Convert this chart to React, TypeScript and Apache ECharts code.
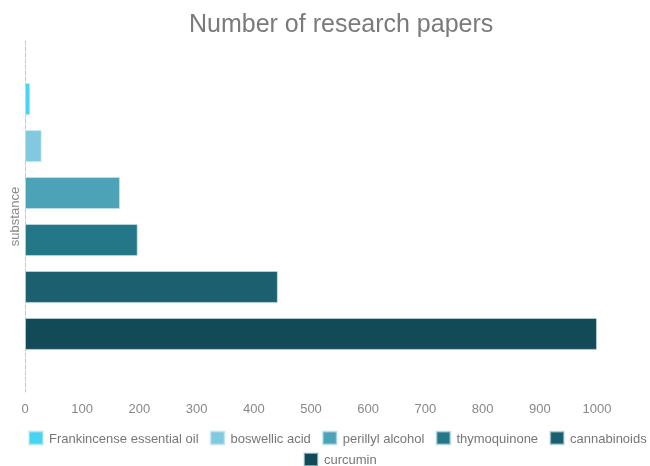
import React, { useEffect, useRef } from "react";
import * as echarts from "echarts";

const categories = ["substance"];
const seriesNames = [
  "Frankincense essential oil",
  "boswellic acid",
  "perillyl alcohol",
  "thymoquinone",
  "cannabinoids",
  "curcumin",
];
const seriesValues = [9, 29, 166, 197, 442, 1000];
const seriesColors = ["#47d4f2", "#80c9de", "#4ca3b7", "#237787", "#1c5f6e", "#134a58"];
const xTicks = { min: 0, max: 1000, interval: 100 };

const FONT = "'Liberation Sans', Arial, Helvetica, sans-serif";

export default function App() {
  const ref = useRef<HTMLDivElement>(null);
  useEffect(() => {
    if (!ref.current) return;
    document.body.style.margin = "0";
    document.body.style.overflow = "hidden";
    const chart = echarts.init(ref.current, null, { renderer: "svg" });
    const legendText = { fontFamily: FONT, fontSize: 13, color: "#777", padding: [0, 0, 0, 1] };
    chart.setOption({
      animation: false,
      textStyle: { fontFamily: FONT },
      title: {
        text: "Number of research papers",
        left: 189,
        top: 10,
        padding: 0,
        textStyle: { fontFamily: FONT, fontSize: 25, fontWeight: "normal", color: "#7a7a7a" },
      },
      legend: [
        {
          data: seriesNames.slice(0, 5),
          left: 28,
          top: 430.5,
          width: 630,
          itemWidth: 14,
          itemHeight: 13,
          itemGap: 11,
          padding: 0,
          icon: "rect",
          textStyle: legendText,
        },
        {
          data: seriesNames.slice(5),
          left: 303,
          top: 452,
          itemWidth: 14,
          itemHeight: 13,
          padding: 0,
          icon: "rect",
          textStyle: legendText,
        },
      ],
      grid: { left: 25, right: 53, top: 41, bottom: 74, containLabel: false },
      xAxis: {
        type: "value",
        min: xTicks.min,
        max: xTicks.max,
        interval: xTicks.interval,
        axisLine: { show: false },
        axisTick: { show: false },
        splitLine: { show: false },
        axisLabel: {
          color: "#888",
          fontSize: 13,
          margin: 10,
          fontFamily: FONT,
          formatter: (v: number) => String(v),
        },
      },
      yAxis: {
        type: "category",
        data: categories,
        inverse: true,
        name: "substance",
        nameLocation: "middle",
        nameGap: 4,
        nameTextStyle: { color: "#888", fontSize: 13, fontFamily: FONT },
        axisLine: { show: true, lineStyle: { color: "#c8c8c8", type: "dashed", width: 1 } },
        axisTick: { show: false },
        axisLabel: { show: false },
      },
      series: seriesNames.map((name, i) => ({
        name,
        type: "bar",
        data: [seriesValues[i]],
        barGap: "47%",
        barCategoryGap: "24%",
        itemStyle: {
          color: seriesColors[i],
          borderColor: "rgba(200,230,240,0.6)",
          borderWidth: 1,
        },
      })),
    });
    return () => chart.dispose();
  }, []);
  return (
    <div
      ref={ref}
      style={{ position: "fixed", left: 0, top: 0, width: 650, height: 466 }}
    />
  );
}
